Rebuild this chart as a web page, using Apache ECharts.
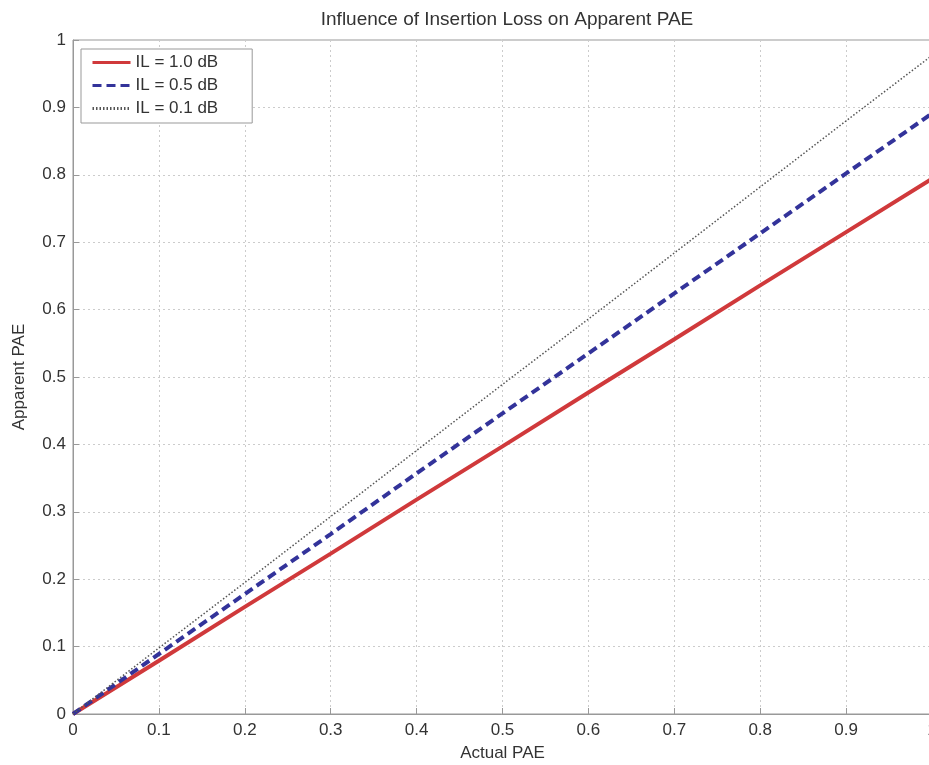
<!DOCTYPE html>
<html><head><meta charset="utf-8">
<script src="https://cdn.jsdelivr.net/npm/echarts@6/dist/echarts.min.js"></script>
<style>html,body{margin:0;padding:0;background:#fff}#c{width:929px;height:765px}</style>
</head><body><div id="c"></div>
<script>
const xVals = [0,0.1,0.2,0.3,0.4,0.5,0.6,0.7,0.8,0.9,1.0];
const il10 = [0,0.079,0.159,0.238,0.318,0.397,0.477,0.556,0.636,0.715,0.794];
const il05 = [0,0.089,0.178,0.267,0.357,0.446,0.535,0.624,0.713,0.802,0.891];
const il01 = [0,0.098,0.195,0.293,0.391,0.489,0.586,0.684,0.782,0.880,0.977];
const seriesNames = ['IL = 1.0 dB','IL = 0.5 dB','IL = 0.1 dB'];
const tickLabels = ['0','0.1','0.2','0.3','0.4','0.5','0.6','0.7','0.8','0.9','1'];

const pairs = a => xVals.map((x,i)=>[x,a[i]]);
const font = 'Liberation Sans, Arial, sans-serif';
const chart = echarts.init(document.getElementById('c'));
chart.setOption({
  backgroundColor:'#fff',
  animation:false,
  title:{text:'Influence of Insertion Loss on Apparent PAE',left:502,top:5,textAlign:'center',
    textStyle:{fontFamily:font,fontSize:19,fontWeight:'normal',color:'#333'}},
  grid:{left:73,top:40,width:859,height:674,show:true,borderColor:'#999',borderWidth:1,
    backgroundColor:'#fff',outerBoundsMode:'none',containLabel:false},
  legend:{left:81,top:49,orient:'vertical',itemGap:6,itemWidth:38,itemHeight:10,
    backgroundColor:'#fff',borderColor:'#999',borderWidth:1,padding:[5,34,6,10],
    itemStyle:{opacity:0},lineStyle:{width:3},
    textStyle:{fontFamily:font,fontSize:17,color:'#333'},data:seriesNames},
  xAxis:{type:'value',min:0,max:1,interval:0.1,
    name:'Actual PAE',nameLocation:'middle',nameGap:31,
    nameTextStyle:{fontFamily:font,fontSize:17,color:'#333'},
    axisLine:{lineStyle:{color:'#999'}},
    axisTick:{inside:true,length:6,lineStyle:{color:'#999'}},
    axisLabel:{fontFamily:font,fontSize:17,color:'#333',margin:8,formatter:v=>tickLabels[Math.round(v*10)]},
    splitLine:{show:true,lineStyle:{color:'#ccc',type:[2,3]}}},
  yAxis:{type:'value',min:0,max:1,interval:0.1,
    name:'Apparent PAE',nameLocation:'middle',nameGap:45,
    nameTextStyle:{fontFamily:font,fontSize:17,color:'#333'},
    axisLine:{lineStyle:{color:'#999'}},
    axisTick:{inside:true,length:6,lineStyle:{color:'#999'}},
    axisLabel:{fontFamily:font,fontSize:17,color:'#333',margin:7,formatter:v=>tickLabels[Math.round(v*10)]},
    splitLine:{show:true,lineStyle:{color:'#ccc',type:[2,3]}}},
  series:[
    {name:seriesNames[0],type:'line',data:pairs(il10),symbol:'none',color:'#d0393b',
      lineStyle:{color:'#d0393b',width:4,type:'solid'}},
    {name:seriesNames[1],type:'line',data:pairs(il05),symbol:'none',color:'#33339a',
      lineStyle:{color:'#33339a',width:4,type:[9,5]}},
    {name:seriesNames[2],type:'line',data:pairs(il01),symbol:'none',color:'#555',
      lineStyle:{color:'#555',width:1.5,type:[1.5,2]}}
  ]
});
</script></body></html>
